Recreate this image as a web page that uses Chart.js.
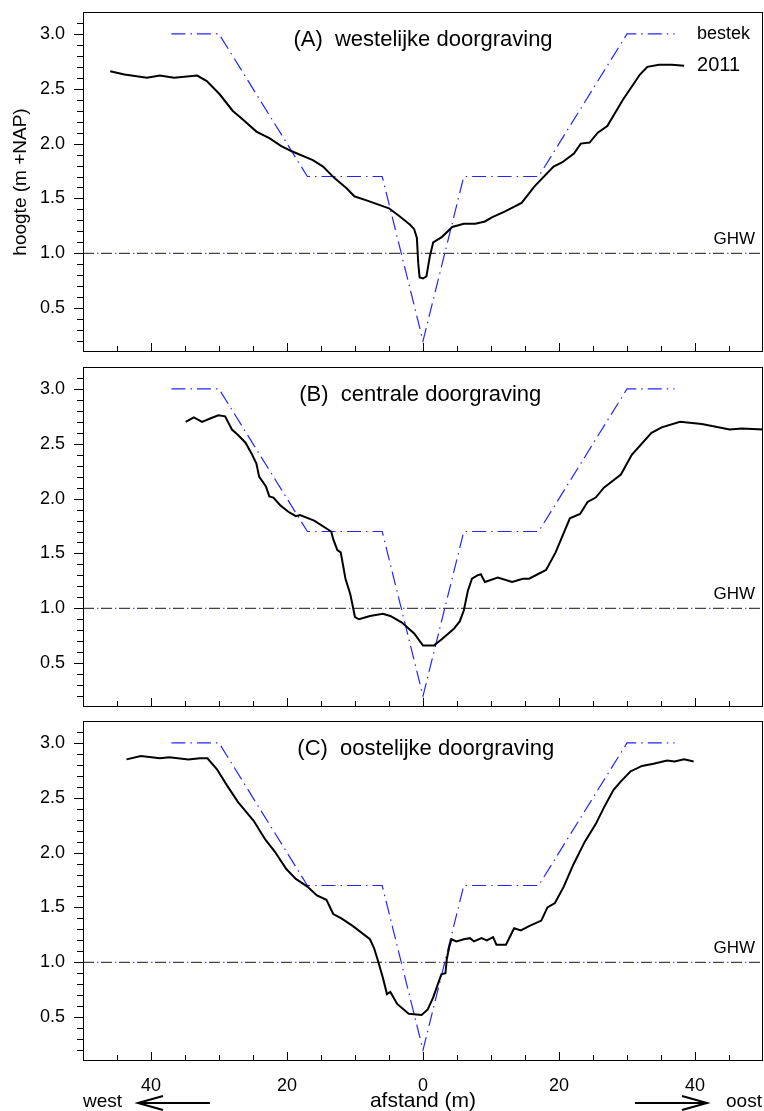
<!DOCTYPE html>
<html>
<head>
<meta charset="utf-8">
<script src="https://cdn.jsdelivr.net/npm/chart.js@4.4.1/dist/chart.umd.min.js"></script>
<style>
  html, body { margin: 0; padding: 0; background: #fff; }
  #wrap { position: relative; width: 764px; height: 1111px; }
  #wrap canvas { position: absolute; left: 0; top: 0; }
</style>
</head>
<body>
<div id="wrap">
  <canvas id="panelA" width="764" height="1111"></canvas>
  <canvas id="panelB" width="764" height="1111"></canvas>
  <canvas id="panelC" width="764" height="1111"></canvas>
</div>
<script>
// distance from the channel axis in m (negative = west), height in m +NAP

// design profile (bestek), same for all three cuts
const bestekX = [-37, -30, -17, -6, 0, 6, 17, 30, 37];
const bestekY = [3.0, 3.0, 1.7, 1.7, 0.2, 1.7, 1.7, 3.0, 3.0];
const ghwLevel = 1.0;

// measured profiles 2011
const profileAX = [-46.0, -43.9, -40.6, -38.7, -36.6, -33.2, -31.8, -29.9, -28.0, -26.5, -24.5, -22.6, -20.9, -19.3, -16.2, -14.7, -13.1, -11.2, -10.1, -8.2, -5.0, -3.5, -1.9, -1.3, -0.9, -0.7, -0.5, 0.0, 0.5, 1.0, 1.5, 2.8, 4.3, 6.0, 7.7, 9.1, 10.2, 12.0, 14.5, 16.4, 19.2, 20.5, 22.2, 23.2, 24.5, 25.7, 27.1, 29.4, 31.9, 33.0, 34.7, 36.6, 38.4];
const profileAY = [2.66, 2.63, 2.60, 2.62, 2.60, 2.62, 2.57, 2.45, 2.30, 2.22, 2.11, 2.05, 1.98, 1.93, 1.85, 1.79, 1.69, 1.59, 1.52, 1.48, 1.41, 1.34, 1.26, 1.22, 1.14, 0.91, 0.78, 0.77, 0.79, 0.97, 1.10, 1.15, 1.24, 1.27, 1.27, 1.29, 1.33, 1.38, 1.46, 1.61, 1.79, 1.83, 1.91, 2.00, 2.01, 2.10, 2.16, 2.40, 2.63, 2.70, 2.72, 2.72, 2.71];

const profileBX = [-34.9, -33.7, -32.5, -31.3, -30.1, -29.1, -28.1, -27.2, -26.1, -25.2, -24.5, -24.1, -23.1, -22.6, -22.0, -21.0, -19.8, -18.7, -18.1, -16.0, -13.5, -13.2, -12.6, -12.1, -11.4, -10.7, -10.0, -9.4, -7.8, -5.9, -4.8, -3.1, -1.3, 0.0, 1.6, 2.8, 4.5, 5.4, 6.0, 6.6, 7.2, 8.0, 8.5, 9.1, 11.0, 13.1, 14.7, 15.6, 18.1, 19.5, 21.6, 23.1, 24.2, 25.4, 26.6, 29.1, 30.7, 33.6, 35.1, 37.8, 41.0, 45.1, 46.9, 50.0];
const profileBY = [2.70, 2.74, 2.70, 2.73, 2.76, 2.75, 2.63, 2.58, 2.51, 2.41, 2.32, 2.20, 2.11, 2.02, 2.01, 1.94, 1.88, 1.84, 1.85, 1.80, 1.70, 1.63, 1.53, 1.51, 1.27, 1.13, 0.92, 0.90, 0.93, 0.95, 0.93, 0.87, 0.77, 0.66, 0.66, 0.72, 0.81, 0.88, 0.98, 1.16, 1.27, 1.30, 1.31, 1.24, 1.28, 1.24, 1.27, 1.27, 1.35, 1.51, 1.82, 1.86, 1.97, 2.01, 2.10, 2.22, 2.40, 2.60, 2.65, 2.70, 2.68, 2.63, 2.64, 2.63];

const profileCX = [-43.6, -41.5, -38.7, -37.3, -34.5, -32.8, -31.7, -30.3, -28.9, -27.2, -24.9, -23.2, -21.8, -20.1, -18.7, -17.0, -15.6, -14.2, -13.2, -12.0, -10.3, -7.8, -7.2, -6.6, -5.9, -5.3, -4.8, -3.8, -2.1, -0.2, 0.7, 1.5, 2.7, 3.3, 3.5, 3.9, 4.2, 4.9, 6.0, 6.9, 7.5, 8.6, 9.4, 10.3, 10.8, 12.2, 13.4, 14.4, 15.6, 17.4, 18.3, 19.4, 20.7, 22.1, 23.8, 25.4, 26.6, 28.0, 29.1, 30.5, 32.2, 33.9, 35.9, 37.0, 38.4, 39.8];
const profileCY = [2.85, 2.88, 2.86, 2.87, 2.85, 2.86, 2.86, 2.76, 2.62, 2.46, 2.29, 2.12, 2.01, 1.85, 1.76, 1.69, 1.61, 1.57, 1.44, 1.40, 1.33, 1.21, 1.13, 1.01, 0.86, 0.71, 0.73, 0.62, 0.53, 0.52, 0.57, 0.68, 0.89, 0.90, 1.03, 1.15, 1.21, 1.19, 1.21, 1.22, 1.19, 1.22, 1.20, 1.23, 1.16, 1.16, 1.31, 1.29, 1.33, 1.38, 1.50, 1.54, 1.69, 1.89, 2.10, 2.26, 2.41, 2.57, 2.65, 2.74, 2.79, 2.81, 2.84, 2.83, 2.85, 2.83];

const xTicks = [-40, -20, 0, 20, 40];
const yTicks = [0.5, 1.0, 1.5, 2.0, 2.5, 3.0];
const panelTitles = ['(A)  westelijke doorgraving', '(B)  centrale doorgraving', '(C)  oostelijke doorgraving'];
const titleX = [0, -0.4, 0.4];

const FONT = "'Liberation Sans', Arial, sans-serif";
Chart.defaults.font.family = FONT;
Chart.defaults.color = '#000';

// plot area of each panel on the page (px)
const panelTop = [12, 367, 721];
const panelBottom = [352, 707, 1061];
const X_AXIS_H = 50;

function toXY(xs, ys) {
  return xs.map((v, i) => ({x: v, y: ys[i]}));
}

function arrow(ctx, x0, x1, y) {
  // shaft from x0 to x1, open head at x1
  const dir = x1 > x0 ? -1 : 1;
  ctx.beginPath();
  ctx.moveTo(x0, y);
  ctx.lineTo(x1, y);
  ctx.moveTo(x1 + dir * 25, y - 7);
  ctx.lineTo(x1, y);
  ctx.lineTo(x1 + dir * 25, y + 7);
  ctx.stroke();
}

const decorations = {
  id: 'decorations',
  afterDatasetsDraw(chart) {
    const {ctx, chartArea: a, scales: {x, y}} = chart;
    const idx = chart.options.plugins.decorations.panel;
    ctx.save();
    ctx.strokeStyle = '#000';
    ctx.fillStyle = '#000';
    ctx.lineWidth = 1;

    // frame
    ctx.strokeRect(a.left + 0.5, a.top + 0.5, a.width - 1, a.height - 1);

    // y ticks every 0.1, outside; x ticks every 5 m, inside
    ctx.beginPath();
    for (let k = 2; k <= 31; k++) {
      const py = Math.round(y.getPixelForValue(k / 10)) + 0.5;
      const len = k % 5 === 0 ? 9 : 6;
      ctx.moveTo(a.left - len, py);
      ctx.lineTo(a.left, py);
    }
    for (let k = -9; k <= 9; k++) {
      const px = Math.round(x.getPixelForValue(k * 5)) + 0.5;
      const len = k % 4 === 0 ? 9 : 6;
      ctx.moveTo(px, a.bottom);
      ctx.lineTo(px, a.bottom - len);
    }
    ctx.stroke();

    ctx.textBaseline = 'middle';

    // panel title
    ctx.font = '22px ' + FONT;
    ctx.textAlign = 'center';
    ctx.fillText(panelTitles[idx], x.getPixelForValue(titleX[idx]), a.top + 28);

    // GHW label
    ctx.font = '17px ' + FONT;
    ctx.textAlign = 'right';
    ctx.fillText('GHW', a.right - 8, y.getPixelForValue(ghwLevel) - 14);

    if (idx === 0) {
      ctx.textAlign = 'left';
      ctx.font = '18px ' + FONT;
      ctx.fillText('bestek', x.getPixelForValue(40.3), y.getPixelForValue(bestekY[bestekY.length - 1]));
      ctx.font = '20px ' + FONT;
      ctx.fillText('2011', x.getPixelForValue(40.3), y.getPixelForValue(profileAY[profileAY.length - 1]));
    }

    if (idx === 2) {
      const by = a.bottom + 41;
      ctx.font = '19px ' + FONT;
      ctx.textAlign = 'left';
      ctx.fillText('west', a.left, by);
      ctx.fillText('oost', a.right - 37, by);
      ctx.lineWidth = 2;
      arrow(ctx, a.left + 127, a.left + 55, by + 1);
      arrow(ctx, a.right - 128, a.right - 56, by + 1);
    }
    ctx.restore();
  }
};

function makePanel(id, idx, xs, ys) {
  const isTop = idx === 0;
  const isBottom = idx === 2;
  const ghw = [{x: -50, y: ghwLevel}, {x: 50, y: ghwLevel}];

  return new Chart(document.getElementById(id), {
    type: 'line',
    data: {
      datasets: [
        {label: '2011', data: toXY(xs, ys), borderColor: '#000', borderWidth: 2},
        {label: 'bestek', data: toXY(bestekX, bestekY), borderColor: '#2424ff', borderWidth: 1.2, borderDash: [14, 5, 1.5, 5]},
        {label: 'GHW', data: ghw, borderColor: '#444', borderWidth: 1.3, borderDash: [11, 7]},
        {label: 'GHW dots', data: ghw, borderColor: '#5a5aff', borderWidth: 1.2, borderDash: [1.5, 16.5], borderDashOffset: 4}
      ]
    },
    options: {
      responsive: false,
      animation: false,
      events: [],
      layout: {
        padding: {
          top: panelTop[idx],
          bottom: isBottom ? 1111 - panelBottom[idx] - X_AXIS_H : 1111 - panelBottom[idx],
          left: 0,
          right: 1
        }
      },
      elements: {
        point: {radius: 0},
        line: {tension: 0, fill: false}
      },
      plugins: {
        legend: {display: false},
        tooltip: {enabled: false},
        decorations: {panel: idx}
      },
      scales: {
        x: {
          type: 'linear',
          min: -50,
          max: 50,
          display: isBottom,
          afterBuildTicks: s => { s.ticks = xTicks.map(v => ({value: v})); },
          afterFit: s => {
            s.height = isBottom ? X_AXIS_H : 0;
            s.paddingLeft = s.paddingRight = 0;
          },
          grid: {display: false},
          border: {display: false},
          ticks: {
            font: {size: 18},
            color: '#000',
            padding: 6,
            maxRotation: 0,
            autoSkip: false,
            callback: v => String(Math.abs(v))
          },
          title: {
            display: true,
            text: 'afstand (m)',
            font: {size: 21, lineHeight: 1},
            color: '#000',
            padding: {top: 0, bottom: -1}
          }
        },
        y: {
          type: 'linear',
          min: 0.1,
          max: 3.2,
          afterBuildTicks: s => { s.ticks = yTicks.map(v => ({value: v})); },
          afterFit: s => {
            s.width = 83;
            s.paddingTop = s.paddingBottom = 0;
          },
          grid: {display: false},
          border: {display: false},
          ticks: {
            font: {size: 18},
            color: '#000',
            padding: 10,
            callback: v => Number(v).toFixed(1)
          },
          title: {
            display: isTop,
            text: 'hoogte (m +NAP)',
            font: {size: 19},
            color: '#000',
            padding: {top: 9, bottom: 0}
          }
        }
      }
    },
    plugins: [decorations]
  });
}

makePanel('panelA', 0, profileAX, profileAY);
makePanel('panelB', 1, profileBX, profileBY);
makePanel('panelC', 2, profileCX, profileCY);
</script>
</body>
</html>
